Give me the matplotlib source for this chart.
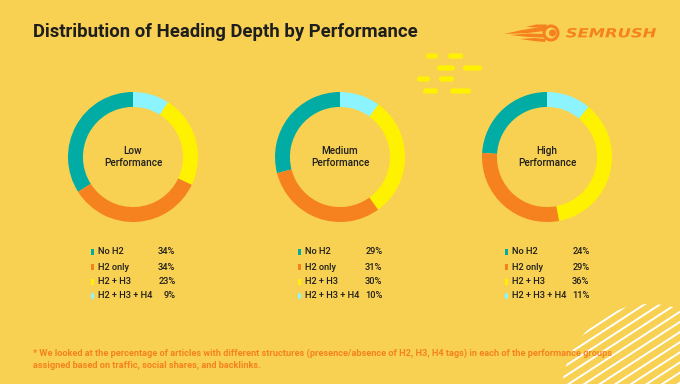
import numpy as np
import matplotlib
matplotlib.use("Agg")
import matplotlib.pyplot as plt
from matplotlib.patches import Circle, Rectangle, FancyBboxPatch, Polygon, PathPatch
from matplotlib.textpath import TextPath
from matplotlib.font_manager import FontProperties
from matplotlib.transforms import Affine2D

plt.rcParams["font.family"] = ["Roboto", "DejaVu Sans"]

groups = ["Low\nPerformance", "Medium\nPerformance", "High\nPerformance"]
categories = ["No H2", "H2 only", "H2 + H3", "H2 + H3 + H4"]
low = [34, 34, 23, 9]
medium = [29, 31, 30, 10]
high = [24, 29, 36, 11]
series = [low, medium, high]

colors = ["#00aca4", "#f5821f", "#fff200", "#8cf4ff"]
bg = "#f8d152"
dark = "#1e1e1e"
orange = "#f5821f"

W, H = 680, 384
fig = plt.figure(figsize=(W / 100, H / 100), dpi=100, facecolor=bg)
ax = fig.add_axes([0, 0, 1, 1])
ax.set_xlim(0, W)
ax.set_ylim(H, 0)
ax.axis("off")

# title
ax.text(33, 32, "Distribution of Heading Depth by Performance", fontsize=13.3,
        fontweight="bold", color=dark, va="center", ha="left")

# logo
fp = FontProperties(family="DejaVu Sans", weight="bold", style="oblique")
tp = TextPath((0, 0), "SEMRUSH", size=10, prop=fp)
ext = tp.get_extents()
sx = 90 / ext.width
sy = 9.5 / ext.height
tr = Affine2D().translate(-ext.x0, -ext.y0).scale(sx, -sy).translate(566, 37.5)
ax.add_patch(PathPatch(tr.transform_path(tp), color=orange, lw=0))
ax.add_patch(Circle((551, 33), 7, facecolor="none", edgecolor=orange, lw=2.2))
ax.add_patch(Circle((552.5, 33), 3.5, color=orange, lw=0))
flames = [
    [(504, 34), (522, 30), (538, 27.5), (545, 27), (544, 31), (528, 33)],
    [(510, 35), (528, 33.5), (545, 34), (544, 37.5), (528, 37)],
    [(520, 39), (534, 38), (546, 39), (545, 42), (534, 41)],
    [(526, 27), (536, 24.5), (547, 24.5), (545, 28)],
]
for f in flames:
    ax.add_patch(Polygon(f, closed=True, color=orange, lw=0))

# yellow dashes
dashes = [(426, 438, 56), (448, 463, 56), (437, 455, 68), (463, 482, 68),
          (417, 430, 79), (439, 454, 79), (423, 438, 91), (450, 471, 91)]
for x0, x1, y in dashes:
    ax.add_patch(FancyBboxPatch((x0, y - 2.6), x1 - x0, 5.2,
                                boxstyle="round,pad=0,rounding_size=2.6",
                                color="#fff200", lw=0))

# white stripes, clipped to a circle
clip = Circle((650, 392), 88, transform=ax.transData, facecolor="none", edgecolor="none")
ax.add_patch(clip)
ang = np.deg2rad(33)
d = np.array([np.cos(ang), -np.sin(ang)])
n = np.array([np.sin(ang), np.cos(ang)])
for k in range(-14, 15):
    p = np.array([650, 392]) + n * k * 8.5
    a, b = p - d * 120, p + d * 120
    ln, = ax.plot([a[0], b[0]], [a[1], b[1]], color="white", lw=1.4,
                  solid_capstyle="round")
    ln.set_clip_path(clip)

# footnote
ax.text(33, 353, "* We looked at the percentage of articles with different structures "
        "(presence/absence of H2, H3, H4 tags) in each of the performance groups",
        fontsize=6.7, fontweight="bold", color=orange, va="center", ha="left")
ax.text(33, 365, "assigned based on traffic, social shares, and backlinks.",
        fontsize=6.7, fontweight="bold", color=orange, va="center", ha="left")

# donuts and legends
centers = [133, 340, 547]
cy, r = 157, 65
rows = [252, 267, 282, 296]
for cx, name, vals in zip(centers, groups, series):
    pax = fig.add_axes([(cx - r) / W, (H - cy - r) / H, 2 * r / W, 2 * r / H])
    pax.pie(vals, colors=colors, startangle=90, counterclock=True, radius=1,
            wedgeprops=dict(width=0.23, edgecolor="none"))
    pax.set_xlim(-1, 1)
    pax.set_ylim(-1, 1)
    pax.axis("off")
    ax.text(cx, cy, name, fontsize=7.2, fontweight="medium", color=dark,
            ha="center", va="center", linespacing=1.2)
    for y, cat, v, c in zip(rows, categories, vals, colors):
        ax.add_patch(Rectangle((cx - 42.5, y - 3), 3, 6, color=c, lw=0))
        ax.text(cx - 35, y, cat, fontsize=6.7, fontweight="medium", color=dark,
                ha="left", va="center")
        ax.text(cx + 42.5, y, f"{v}%", fontsize=6.7, fontweight="medium", color=dark,
                ha="right", va="center")

fig.savefig("out.png", dpi=100, facecolor=bg)
